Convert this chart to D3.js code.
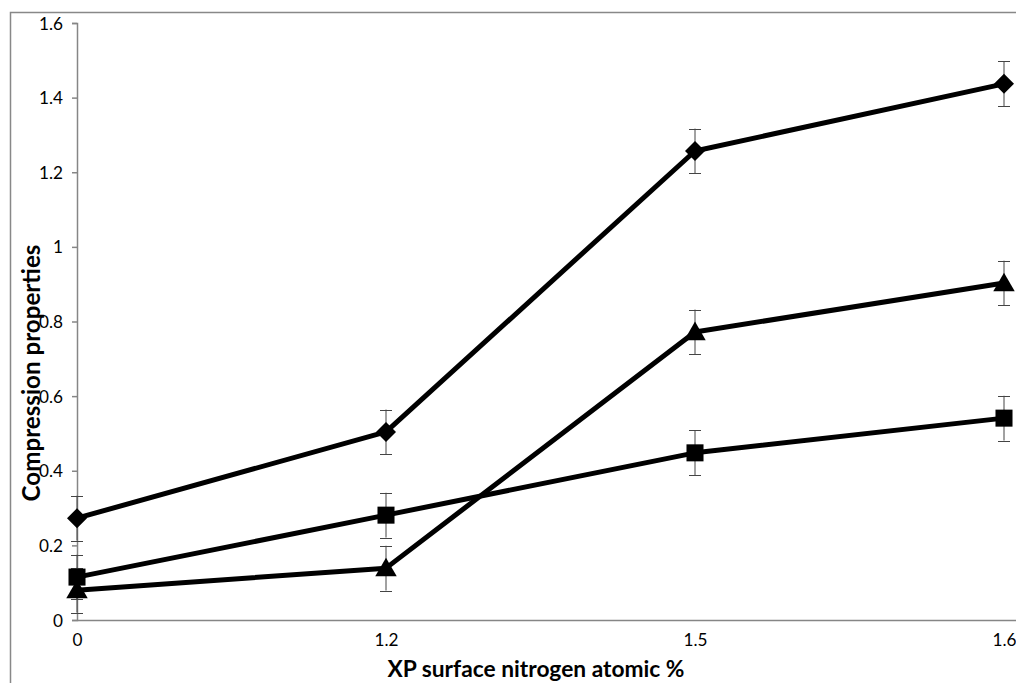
<!DOCTYPE html>
<html><head><meta charset="utf-8">
<script src="https://cdn.jsdelivr.net/npm/d3@7"></script>
<style>body{margin:0;background:#fff}svg{display:block}</style>
</head><body>
<svg id="c" width="1016" height="683"></svg>
<script>
const categories = ["0", "1.2", "1.5", "1.6"];
const diamondValues = [0.273, 0.504, 1.257, 1.437];
const squareValues = [0.115, 0.281, 0.448, 0.541];
const triangleValues = [0.080, 0.139, 0.772, 0.903];
const errorValues = [0.06, 0.06, 0.06, 0.06];
const yTicks = [0, 0.2, 0.4, 0.6, 0.8, 1, 1.2, 1.4, 1.6];
const seriesList = [
  {name: "diamond", values: diamondValues, symbol: d3.symbolSquare, size: 200, rotate: 45, dy: 0},
  {name: "square", values: squareValues, symbol: d3.symbolSquare, size: 290, rotate: 0, dy: 0},
  {name: "triangle", values: triangleValues, symbol: d3.symbolTriangle, size: 200, rotate: 0, dy: 2}
];

const svg = d3.select("#c");
const font = "Lato, 'Open Sans', 'Liberation Sans', sans-serif";
const L = 77, R = 1004, T = 23, B = 620;

function fit(sel, targetWidth) {
  sel.each(function() {
    const el = d3.select(this);
    const fs = +el.attr("font-size");
    const w = this.getComputedTextLength();
    if (w > 0) el.attr("font-size", (fs * targetWidth / w).toFixed(2));
  });
}

// outer chart frame
svg.append("path").attr("d", `M10.5,700 V12.5 H1030`).attr("fill", "none").attr("stroke", "#888").attr("stroke-width", 1.5);

const x = d3.scalePoint().domain(categories).range([L, R]).padding(0);
const y = d3.scaleLinear().domain([0, 1.6]).range([B, T]);

const yAxis = svg.append("g").attr("transform", `translate(${L},0)`)
  .call(d3.axisLeft(y).tickValues(yTicks).tickSize(5).tickPadding(9).tickFormat(d => d3.format("~g")(d)));
yAxis.select(".domain").attr("stroke", "#868686").attr("stroke-width", 1.5);
yAxis.selectAll(".tick line").attr("stroke", "#868686").attr("stroke-width", 1.5);
yAxis.selectAll("text").attr("font-family", font).attr("font-size", 14).attr("fill", "#000").attr("dy", "0.35em");

const xAxis = svg.append("g").attr("transform", `translate(0,${B})`)
  .call(d3.axisBottom(x).tickSize(0).tickPadding(14));
xAxis.select(".domain").attr("d", `M${L},0.5H1016`).attr("stroke", "#868686").attr("stroke-width", 1.5);
xAxis.selectAll("text").attr("font-family", font).attr("font-size", 14).attr("fill", "#000");

const probe = svg.append("text").attr("font-family", font).attr("font-size", 14).text("1.6");
fit(probe, 24);
const tickFs = probe.attr("font-size");
probe.remove();
yAxis.selectAll("text").attr("font-size", tickFs);
xAxis.selectAll("text").attr("font-size", tickFs);

const line = d3.line().x((d, i) => x(categories[i])).y(d => y(d));
seriesList.forEach(s => {
  const g = svg.append("g");
  s.values.forEach((v, i) => {
    const cx = x(categories[i]);
    const e = errorValues[i];
    g.append("line").attr("x1", cx).attr("x2", cx).attr("y1", y(v + e)).attr("y2", y(v - e)).attr("stroke", "#444").attr("stroke-width", 1);
    [v + e, v - e].forEach(w => g.append("line").attr("x1", cx - 6).attr("x2", cx + 6).attr("y1", Math.round(y(w)) + 0.5).attr("y2", Math.round(y(w)) + 0.5).attr("stroke", "#444").attr("stroke-width", 1));
  });
});
seriesList.forEach(s => {
  svg.append("path").datum(s.values).attr("d", line).attr("fill", "none").attr("stroke", "#000").attr("stroke-width", 5).attr("stroke-linejoin", "round");
});
seriesList.forEach(s => {
  svg.append("g").selectAll("path").data(s.values).join("path")
    .attr("transform", (d, i) => `translate(${x(categories[i])},${y(d) + s.dy}) rotate(${s.rotate})`)
    .attr("d", d3.symbol().type(s.symbol).size(s.size)).attr("fill", "#000");
});

const xt = svg.append("text").attr("x", 536).attr("y", 677).attr("text-anchor", "middle")
  .attr("font-family", font).attr("font-size", 20).attr("font-weight", "bold").text("XP surface nitrogen atomic %");
fit(xt, 297);
const yt = svg.append("text").attr("transform", "translate(40,373) rotate(-90)").attr("text-anchor", "middle")
  .attr("font-family", font).attr("font-size", 20).attr("font-weight", "bold").text("Compression properties");
fit(yt, 257);
</script>
</body></html>
